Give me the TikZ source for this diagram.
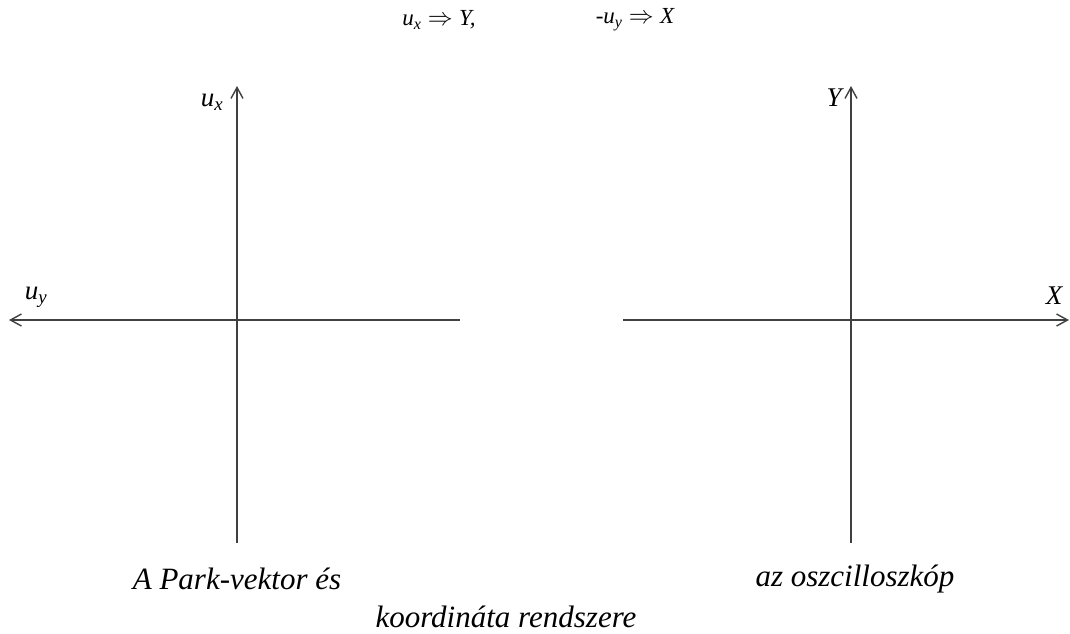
\documentclass[tikz,border=0pt]{standalone}
\usepackage{fontspec}
\setmainfont{Liberation Serif}
\usetikzlibrary{arrows.meta}
\begin{document}
\begin{tikzpicture}[x=1pt,y=-1pt,
  axis/.style={line width=1.4pt,draw=black!75,-{Straight Barb[length=11pt,width=12pt,line width=1.4pt]}},
  lbl/.style={font=\fontsize{27}{32}\selectfont\itshape,inner sep=0pt},
  captxt/.style={font=\fontsize{31}{36}\selectfont\itshape,inner sep=0pt},
  toptxt/.style={font=\fontsize{23}{27}\selectfont\itshape,inner sep=0pt}]
\useasboundingbox (0,0) rectangle (1070,633);
% left axes
\coordinate (lb) at (237,543);
\coordinate (lt) at (237,86);
\coordinate (lr) at (460,320);
\coordinate (ll) at (9,320);
\draw[axis] (lb) -- (lt);
\draw[axis] (lr) -- (ll);
% right axes
\coordinate (rb) at (851,543);
\coordinate (rt) at (851,86);
\coordinate (rl) at (623,320);
\coordinate (rr) at (1069,320);
\draw[axis] (rb) -- (rt);
\draw[axis] (rl) -- (rr);
% labels
\node[lbl] (ux) at (212,102) {u\textsubscript{x}};
\node[lbl] (uy) at (36,297) {u\textsubscript{y}};
\node[lbl] (Y) at (834,98) {Y};
\node[lbl] (X) at (1054,296) {X};
% top
\node[toptxt] (t1) at (439,20) {u\textsubscript{x}\;$\Rightarrow$\;Y,};
\node[toptxt] (t2) at (635,20) {-u\textsubscript{y}\;$\Rightarrow$\;X};
% bottom
\node[captxt] (c1) at (237,579) {A Park-vektor és};
\node[captxt] (c2) at (855,579) {az oszcilloszkóp};
\node[captxt] (c3) at (506,617) {koordináta rendszere};
\end{tikzpicture}
\end{document}
